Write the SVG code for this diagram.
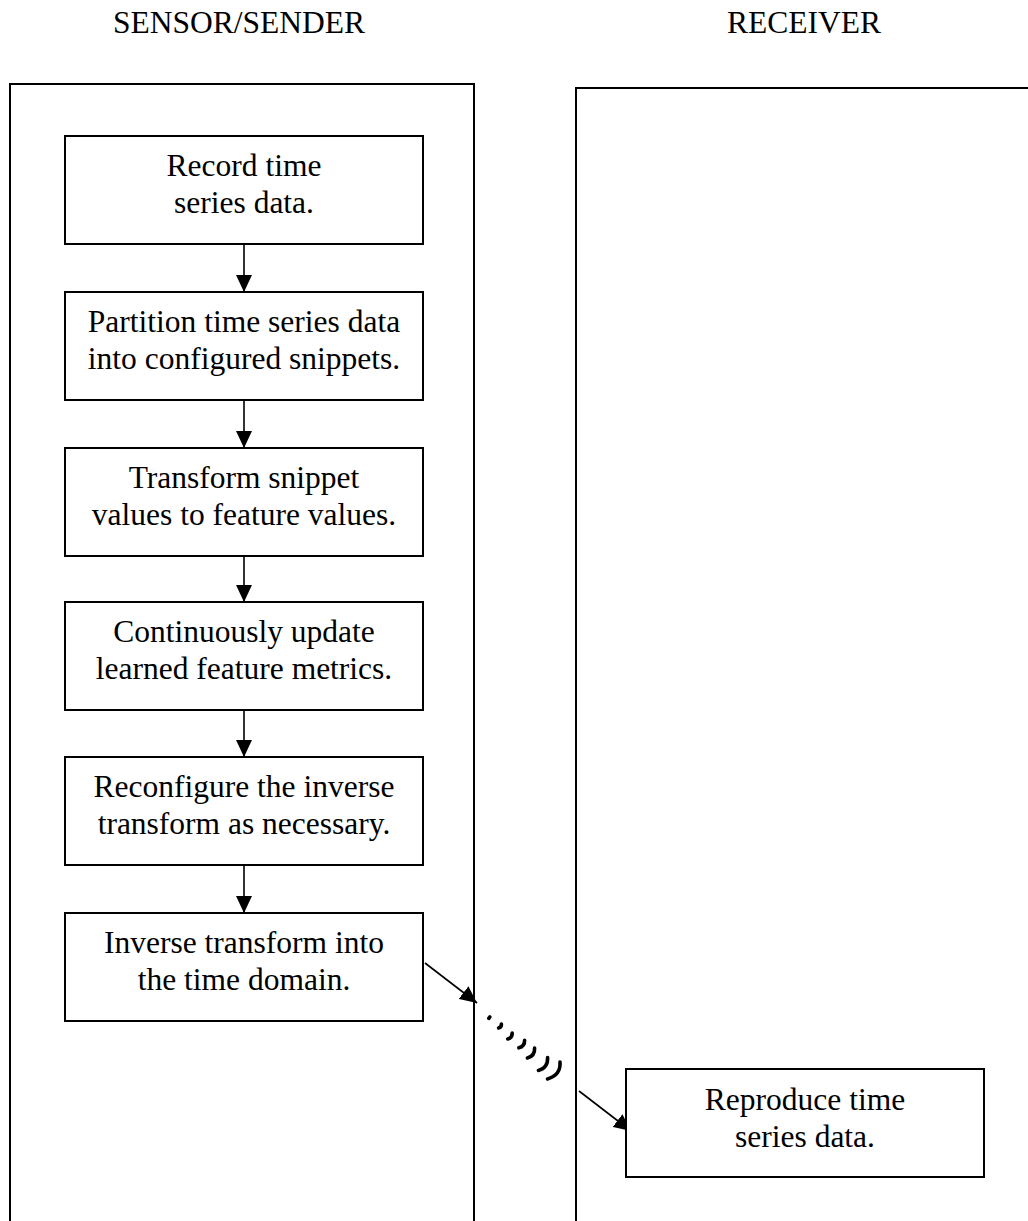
<svg xmlns="http://www.w3.org/2000/svg" width="1028" height="1221" viewBox="0 0 1028 1221">
<style>
text{font-family:"Liberation Serif","Times New Roman",serif;font-size:31.5px;fill:#000;text-anchor:middle}
.panel{fill:none;stroke:#000;stroke-width:2}
.box{fill:#fff;stroke:#000;stroke-width:2}
.conn{fill:none;stroke:#000;stroke-width:1.6}
.wave{fill:none;stroke:#000;stroke-width:3.6;stroke-linecap:round}
</style>
<defs>
<marker id="ah" markerUnits="userSpaceOnUse" markerWidth="18" markerHeight="16" refX="17" refY="8" orient="auto">
<path d="M0,0 L17,8 L0,16 z" fill="#000"/>
</marker>
</defs>
<rect width="1028" height="1221" fill="#fff"/>
<g id="header-sensor"><text x="239" y="33">SENSOR/SENDER</text></g>
<g id="header-receiver"><text x="804" y="33">RECEIVER</text></g>
<g id="panel-sensor"><path class="panel" d="M10,1221 V84 H474 V1221"/></g>
<g id="panel-receiver"><path class="panel" d="M576,1221 V88 H1028"/></g>
<g id="connectors">
<line class="conn" x1="244" y1="244" x2="244" y2="292" marker-end="url(#ah)"/>
<line class="conn" x1="244" y1="400" x2="244" y2="448" marker-end="url(#ah)"/>
<line class="conn" x1="244" y1="556" x2="244" y2="602" marker-end="url(#ah)"/>
<line class="conn" x1="244" y1="710" x2="244" y2="757" marker-end="url(#ah)"/>
<line class="conn" x1="244" y1="865" x2="244" y2="913" marker-end="url(#ah)"/>
<line class="conn" x1="425" y1="963" x2="477" y2="1003" marker-end="url(#ah)"/>
<line class="conn" x1="579" y1="1091" x2="631" y2="1131" marker-end="url(#ah)"/>
</g>
<g id="wireless">
<path class="wave" d="M489.8,1017 L488.8,1018.4"/>
<path class="wave" d="M501.4,1024 Q501.6,1027.2 498.6,1028"/>
<path class="wave" d="M512.2,1033 Q512.4,1037.8 507.8,1039"/>
<path class="wave" d="M524.6,1040.2 Q524.8,1046.4 518.8,1047.8"/>
<path class="wave" d="M534.6,1048 Q535,1056 527.4,1058"/>
<path class="wave" d="M547.6,1057.6 Q548,1068 538.4,1070.4"/>
<path class="wave" d="M560,1062 Q561,1075 547.5,1079"/>
</g>
<g id="node-record"><rect class="box" x="65" y="136" width="358" height="108"/><text x="244" y="175.5">Record time</text><text x="244" y="212.5">series data.</text></g>
<g id="node-partition"><rect class="box" x="65" y="292" width="358" height="108"/><text x="244" y="331.5">Partition time series data</text><text x="244" y="368.5">into configured snippets.</text></g>
<g id="node-transform"><rect class="box" x="65" y="448" width="358" height="108"/><text x="244" y="487.5">Transform snippet</text><text x="244" y="524.5">values to feature values.</text></g>
<g id="node-update"><rect class="box" x="65" y="602" width="358" height="108"/><text x="244" y="641.5">Continuously update</text><text x="244" y="678.5">learned feature metrics.</text></g>
<g id="node-reconfigure"><rect class="box" x="65" y="757" width="358" height="108"/><text x="244" y="796.5">Reconfigure the inverse</text><text x="244" y="833.5">transform as necessary.</text></g>
<g id="node-inverse"><rect class="box" x="65" y="913" width="358" height="108"/><text x="244" y="952.5">Inverse transform into</text><text x="244" y="989.5">the time domain.</text></g>
<g id="node-reproduce"><rect class="box" x="626" y="1069" width="358" height="108"/><text x="805" y="1109.5">Reproduce time</text><text x="805" y="1146.5">series data.</text></g>
</svg>
